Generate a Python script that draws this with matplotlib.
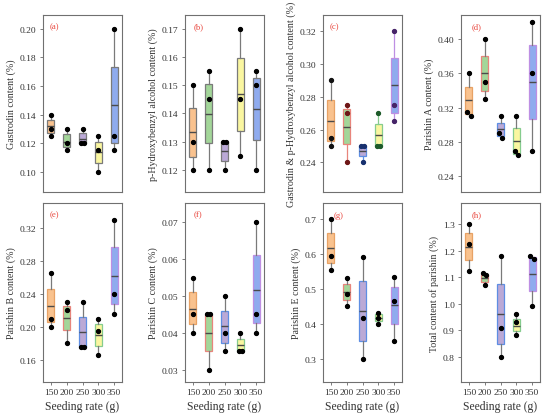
import numpy as np
import matplotlib
matplotlib.use("Agg")
import matplotlib.pyplot as plt

plt.rcParams["font.family"] = "serif"
plt.rcParams["font.serif"] = ["Liberation Serif", "DejaVu Serif"]

seeding_rates = ["150", "200", "250", "300", "350"]
panel_tags = ["(a)", "(b)", "(c)", "(d)", "(e)", "(f)", "(g)", "(h)"]
y_titles = [
    "Gastrodin content (%)",
    "p-Hydroxybenzyl alcohol content (%)",
    "Gastrodin & p-Hydroxybenzyl alcohol content (%)",
    "Parishin A content (%)",
    "Parishin B content (%)",
    "Parishin C content (%)",
    "Parishin E content (%)",
    "Total content of parishin (%)",
]

# (a) gastrodin
gas_q1 = [0.1268, 0.117, 0.120, 0.106, 0.1198]
gas_med = [0.1317, 0.1207, 0.1228, 0.1135, 0.1466]
gas_q3 = [0.136, 0.1261, 0.1268, 0.1205, 0.1732]
gas_pts = [[0.140, 0.130, 0.125], [0.130, 0.120, 0.115], [0.130, 0.120, 0.120],
           [0.125, 0.115, 0.100], [0.200, 0.125, 0.115]]

# (b) p-hydroxybenzyl alcohol
hba_q1 = [0.1245, 0.1294, 0.1232, 0.1336, 0.1306]
hba_med = [0.1333, 0.1399, 0.1266, 0.1467, 0.1416]
hba_q3 = [0.1420, 0.1503, 0.1300, 0.1595, 0.1524]
hba_pts = [[0.150, 0.130, 0.120], [0.155, 0.145, 0.120], [0.130, 0.130, 0.120],
           [0.170, 0.145, 0.125], [0.155, 0.150, 0.120]]

# (c) gastrodin + p-hydroxybenzyl alcohol
sum_q1 = [0.2528, 0.251, 0.2437, 0.250, 0.2699]
sum_med = [0.265, 0.2617, 0.2469, 0.2567, 0.287]
sum_q3 = [0.2779, 0.2728, 0.250, 0.2632, 0.3037]
sum_pts = [[0.290, 0.255, 0.250], [0.275, 0.270, 0.240], [0.250, 0.250, 0.240],
           [0.270, 0.250, 0.250], [0.320, 0.275, 0.265]]

# (d) parishin A
pa_q1 = [0.3126, 0.3394, 0.2874, 0.266, 0.3064]
pa_med = [0.3289, 0.36, 0.2951, 0.2812, 0.35]
pa_q3 = [0.3441, 0.3806, 0.3025, 0.2959, 0.3934]
pa_pts = [[0.36, 0.315, 0.31], [0.40, 0.35, 0.33], [0.31, 0.29, 0.285],
          [0.31, 0.27, 0.265], [0.42, 0.36, 0.27]]

# (e) parishin B
pb_q1 = [0.2056, 0.1958, 0.1754, 0.1771, 0.2272]
pb_med = [0.2255, 0.2101, 0.1937, 0.1905, 0.2622]
pb_q3 = [0.2455, 0.2255, 0.212, 0.2035, 0.2968]
pb_pts = [[0.265, 0.21, 0.20], [0.23, 0.22, 0.18], [0.23, 0.175, 0.175],
          [0.21, 0.195, 0.165], [0.33, 0.24, 0.215]]

# (f) parishin C
pc_q1 = [0.0424, 0.0350, 0.0373, 0.0351, 0.0426]
pc_med = [0.0466, 0.0401, 0.0418, 0.0368, 0.0516]
pc_q3 = [0.0511, 0.0448, 0.046, 0.0384, 0.061]
pc_pts = [[0.055, 0.045, 0.040], [0.045, 0.045, 0.030], [0.050, 0.040, 0.035],
          [0.040, 0.035, 0.035], [0.070, 0.045, 0.040]]

# (g) parishin E
pe_q1 = [0.5745, 0.4665, 0.3505, 0.408, 0.3994]
pe_med = [0.6167, 0.4905, 0.4358, 0.4176, 0.453]
pe_q3 = [0.659, 0.5133, 0.521, 0.4272, 0.5056]
pe_pts = [[0.70, 0.595, 0.555], [0.53, 0.485, 0.45], [0.59, 0.415, 0.30],
          [0.43, 0.415, 0.40], [0.535, 0.465, 0.35]]

# (h) total parishin
tot_q1 = [1.166, 1.084, 0.849, 0.897, 1.05]
tot_med = [1.215, 1.0966, 0.963, 0.916, 1.112]
tot_q3 = [1.266, 1.109, 1.0765, 0.944, 1.175]
tot_pts = [[1.30, 1.225, 1.125], [1.115, 1.11, 1.07], [1.18, 0.91, 0.80],
           [0.96, 0.93, 0.88], [1.18, 1.17, 0.99]]

panels = [
    (gas_q1, gas_med, gas_q3, gas_pts),
    (hba_q1, hba_med, hba_q3, hba_pts),
    (sum_q1, sum_med, sum_q3, sum_pts),
    (pa_q1, pa_med, pa_q3, pa_pts),
    (pb_q1, pb_med, pb_q3, pb_pts),
    (pc_q1, pc_med, pc_q3, pc_pts),
    (pe_q1, pe_med, pe_q3, pe_pts),
    (tot_q1, tot_med, tot_q3, tot_pts),
]

y_limits = [(0.0858, 0.2096), (0.1122, 0.1748), (0.2219, 0.330), (0.2217, 0.428),
            (0.1326, 0.351), (0.0267, 0.0752), (0.2328, 0.746), (0.704, 1.381)]
y_ticks = [np.arange(0.10, 0.201, 0.02), np.arange(0.12, 0.171, 0.01),
           np.arange(0.24, 0.321, 0.02), np.arange(0.24, 0.401, 0.04),
           np.arange(0.16, 0.321, 0.04), np.arange(0.03, 0.071, 0.01),
           np.arange(0.3, 0.71, 0.1), np.arange(0.8, 1.31, 0.1)]
y_fmt = ["%.2f", "%.2f", "%.2f", "%.2f", "%.2f", "%.2f", "%.1f", "%.1f"]
tag_x = [0.08, 0.11, 0.08, 0.13, 0.08, 0.11, 0.14, 0.14]

fills = ["#F9C28E", "#A3D699", "#BBA9D6", "#FAF6A0", "#8FABEE"]
edges_gray = ["#7a7a7a"] * 5
edges_mixed = ["#E8A265", "#E8857C", "#5E8EE3", "#86CC8E", "#BE8FE3"]
dots_c = ["#111111", "#6E1616", "#17306E", "#1D5A2A", "#462468"]

fig = plt.figure(figsize=(5.5, 4.14), dpi=100)
lefts = [43, 185, 323, 461]
axw = 79

for i, (q1, med, q3, pts) in enumerate(panels):
    row, col = divmod(i, 4)
    if row == 0:
        rect = [lefts[col] / 550, 1 - 193 / 414, axw / 550, 177 / 414]
    else:
        rect = [lefts[col] / 550, 1 - 383 / 414, axw / 550, 179 / 414]
    ax = fig.add_axes(rect)

    edges = edges_gray if i < 2 else edges_mixed
    stats = []
    for k in range(5):
        stats.append(dict(med=med[k], q1=q1[k], q3=q3[k],
                          whislo=min(pts[k]), whishi=max(pts[k]), fliers=[]))
    bp = ax.bxp(stats, positions=range(1, 6), widths=0.45, showcaps=False,
                showfliers=False, patch_artist=True)
    for k in range(5):
        bp["boxes"][k].set_facecolor(fills[k])
        bp["boxes"][k].set_edgecolor(edges[k])
        bp["boxes"][k].set_linewidth(0.9)
        bp["medians"][k].set_color("#4a4a4a")
        bp["medians"][k].set_linewidth(1.0)
        wc = edges[k] if i == 2 and k > 0 else "#7a7a7a"
        for w in bp["whiskers"][2 * k:2 * k + 2]:
            w.set_color(wc)
            w.set_linewidth(0.9)

    yr = y_limits[i][1] - y_limits[i][0]
    for k in range(5):
        vals = sorted(pts[k], reverse=True)
        xs = [k + 1.0] * 3
        for j in range(2):
            if abs(vals[j] - vals[j + 1]) < 0.025 * yr:
                xs[j] -= 0.11
                xs[j + 1] += 0.11
        dc = dots_c[k] if i == 2 else "black"
        ax.plot(xs, vals, "o", color=dc, ms=2.8, zorder=5)

    ax.set_xlim(0.5, 5.5)
    ax.set_ylim(*y_limits[i])
    ax.set_yticks(y_ticks[i])
    ax.set_yticklabels([y_fmt[i] % v for v in y_ticks[i]], fontsize=6.8, color="#333333")
    ax.tick_params(axis="y", length=2.5, width=0.6, color="#666666", pad=2)
    if row == 1:
        ax.set_xticks(range(1, 6))
        ax.set_xticklabels(seeding_rates, fontsize=6.8, color="#333333")
        ax.tick_params(axis="x", length=2.5, width=0.6, color="#666666", pad=2)
        ax.set_xlabel("Seeding rate (g)", fontsize=8.4, color="#333333", labelpad=3)
    else:
        ax.set_xticks([])
    ax.set_ylabel(y_titles[i], fontsize=7.2, color="#333333", labelpad=3)
    for s in ax.spines.values():
        s.set_color("#707070")
        s.set_linewidth(0.8)
    ax.text(tag_x[i], 0.935, panel_tags[i], transform=ax.transAxes, fontsize=6.2,
            color="#E8433A", va="center", ha="left")

fig.savefig("out.png", dpi=100)
